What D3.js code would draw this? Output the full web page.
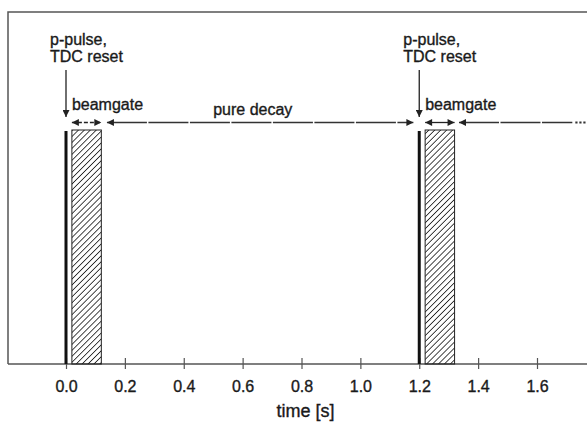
<!DOCTYPE html>
<html>
<head>
<meta charset="UTF-8">
<title>beam timing</title>
<style>
  body { margin: 0; background: #fff; }
  svg text { font-family: "Liberation Sans", Arial, Helvetica, sans-serif; fill: #1a1a1a; stroke: #1a1a1a; stroke-width: 0.35px; }
</style>
</head>
<body>
<div id="chart"></div>
<script src="https://cdn.jsdelivr.net/npm/d3@7"></script>
<script>
// time axis ticks [s]
var tickVals = [0.0, 0.2, 0.4, 0.6, 0.8, 1.0, 1.2, 1.4, 1.6];
// proton pulse times (TDC reset)
var pulses = [0.0, 1.2];
// beamgate windows [start, end]
var gates = [[0.02, 0.12], [1.22, 1.32]];
// pure decay intervals (arrows) [start, end]
var decays = [[0.139, 1.18], [1.335, 1.72]];
var labelPulse = ["p-pulse,", "TDC reset"];

var W = 587, H = 422;
var frameL = 8, frameT = 12, axisY = 364;
var barTop = 130, arrowY = 122.5;

var x = d3.scaleLinear().domain([0, 1.6]).range([66, 537]);

var svg = d3.select("#chart").append("svg")
    .attr("width", W).attr("height", H);

var defs = svg.append("defs");
var pat = defs.append("pattern")
    .attr("id", "hatch")
    .attr("patternUnits", "userSpaceOnUse")
    .attr("width", 4.2).attr("height", 4.2)
    .attr("patternTransform", "rotate(45)");
pat.append("line")
    .attr("x1", 0).attr("y1", 0).attr("x2", 0).attr("y2", 4.2)
    .attr("stroke", "#1a1a1a").attr("stroke-width", 1.6);

defs.append("marker")
    .attr("id", "head")
    .attr("viewBox", "0 0 10 10")
    .attr("refX", 10).attr("refY", 5)
    .attr("markerWidth", 8).attr("markerHeight", 7)
    .attr("markerUnits", "userSpaceOnUse")
    .attr("orient", "auto-start-reverse")
  .append("path")
    .attr("d", "M0,0 L10,5 L0,10 Z")
    .attr("fill", "#222");

// frame: left and top edges
svg.append("path")
    .attr("d", "M" + frameL + "," + axisY + " L" + frameL + "," + frameT + " L" + W + "," + frameT)
    .attr("fill", "none").attr("stroke", "#555").attr("stroke-width", 1.5);

// axis
var axis = d3.axisBottom(x)
    .tickValues(tickVals)
    .tickFormat(d3.format(".1f"))
    .tickSize(5)
    .tickPadding(12);
var gx = svg.append("g")
    .attr("transform", "translate(0," + axisY + ")")
    .call(axis);
gx.select(".domain").remove();
gx.selectAll(".tick line").attr("y1", -6).attr("stroke", "#555").attr("stroke-width", 1.2);
gx.selectAll(".tick text")
    .style("font-size", "16px")
    .style("font-family", "'Liberation Sans', Arial, sans-serif")
    .attr("fill", "#1a1a1a");
svg.append("line")
    .attr("x1", frameL).attr("x2", W)
    .attr("y1", axisY).attr("y2", axisY)
    .attr("stroke", "#555").attr("stroke-width", 1.5);

svg.append("text")
    .attr("x", (x(0) + x(1.6)) / 2 + 4)
    .attr("y", 417)
    .attr("text-anchor", "middle")
    .style("font-size", "18px")
    .text("time [s]");

// beamgate windows
svg.selectAll("rect.gate").data(gates).enter().append("rect")
    .attr("class", "gate")
    .attr("x", function(d) { return x(d[0]); })
    .attr("y", barTop)
    .attr("width", function(d) { return x(d[1]) - x(d[0]); })
    .attr("height", axisY - barTop)
    .attr("fill", "url(#hatch)")
    .attr("stroke", "#222").attr("stroke-width", 1);

// proton pulses
svg.selectAll("rect.pulse").data(pulses).enter().append("rect")
    .attr("class", "pulse")
    .attr("x", function(d) { return x(d) - 1.5; })
    .attr("y", barTop + 1)
    .attr("width", 3)
    .attr("height", axisY - barTop - 1)
    .attr("fill", "#111");

// pulse arrows + labels
pulses.forEach(function(p) {
  var px = x(p);
  svg.append("line")
    .attr("x1", px).attr("x2", px)
    .attr("y1", 70).attr("y2", 117)
    .attr("stroke", "#222").attr("stroke-width", 1.3)
    .attr("marker-end", "url(#head)");
  svg.selectAll(null).data(labelPulse).enter().append("text")
    .attr("x", px - 16)
    .attr("y", function(d, i) { return 45 + i * 17; })
    .style("font-size", "16px")
    .text(function(d) { return d; });
});

// beamgate arrows + labels
gates.forEach(function(g, i) {
  svg.append("line")
    .attr("x1", x(g[0])).attr("x2", x(g[1]))
    .attr("y1", arrowY).attr("y2", arrowY)
    .attr("stroke", "#222").attr("stroke-width", 1.3)
    .attr("stroke-dasharray", i == 0 ? "4,2" : null)
    .attr("marker-start", "url(#head)")
    .attr("marker-end", "url(#head)");
  svg.append("text")
    .attr("x", x(g[0]))
    .attr("y", 110)
    .style("font-size", "16px")
    .text("beamgate");
});

// pure decay arrows
decays.forEach(function(d, i) {
  svg.append("line")
    .attr("x1", x(d[0])).attr("x2", x(d[1]))
    .attr("y1", arrowY).attr("y2", arrowY)
    .attr("stroke", "#333").attr("stroke-width", 1.5)
    .attr("stroke-dasharray", "40,1.5")
    .attr("marker-start", "url(#head)")
    .attr("marker-end", i == 0 ? "url(#head)" : null);
});
// continuation dots
var last = decays[decays.length - 1][1];
svg.append("line")
    .attr("x1", x(last) + 3).attr("x2", W)
    .attr("y1", arrowY).attr("y2", arrowY)
    .attr("stroke", "#333").attr("stroke-width", 2.2)
    .attr("stroke-dasharray", "2.2,1.8");

svg.append("text")
    .attr("x", x(0.5))
    .attr("y", 115)
    .style("font-size", "16px")
    .text("pure decay");
</script>
</body>
</html>
